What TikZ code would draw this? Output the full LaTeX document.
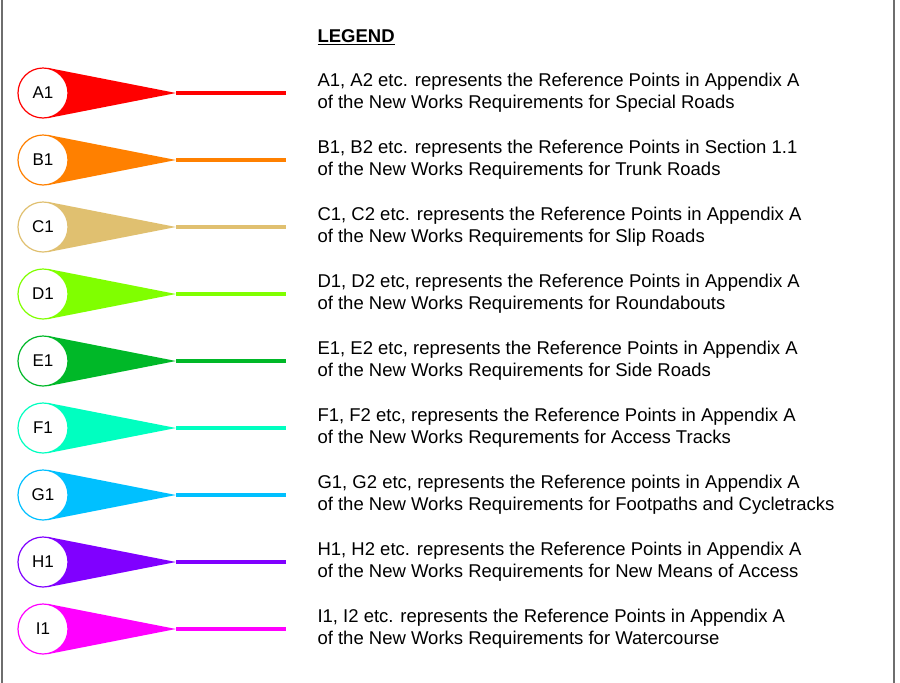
\documentclass[tikz,border=0pt]{standalone}
\usepackage{fontspec}
\setmainfont{Liberation Sans}
\usepackage{tikz}
\definecolor{refA}{RGB}{255, 0, 0}
\definecolor{refB}{RGB}{255, 128, 0}
\definecolor{refC}{RGB}{224, 192, 112}
\definecolor{refD}{RGB}{128, 255, 0}
\definecolor{refE}{RGB}{0, 184, 40}
\definecolor{refF}{RGB}{0, 255, 192}
\definecolor{refG}{RGB}{0, 192, 255}
\definecolor{refH}{RGB}{128, 0, 255}
\definecolor{refI}{RGB}{255, 0, 255}
\definecolor{framegray}{RGB}{110, 110, 110}
\usetikzlibrary{positioning, backgrounds}

\begin{document}
\begin{tikzpicture}[
    x=1pt, y=-1pt,
    refpt/.style={circle, draw=#1, line width=1.2pt, fill=white, minimum size=50pt,
                  inner sep=0pt, font=\fontsize{17}{18}\selectfont},
    refline/.style={draw=#1, line width=4.5pt},
    desc/.style={anchor=west, align=left, font=\fontsize{18.5}{22}\selectfont}
]
    \useasboundingbox (0,0) rectangle (900,683);
    \draw[framegray, line width=2pt] (2,0) -- (2,683);
    \draw[framegray, line width=1.6pt] (894,0) -- (894,683);

    \node[anchor=west, font=\fontsize{18.5}{20}\selectfont] (legend) at (314,37) {\underline{\textbf{LEGEND}}};

    % Reference point markers
    \node[refpt=refA] (a1) at (43,93) {A1};
    \node[refpt=refB] (b1) at (43,160) {B1};
    \node[refpt=refC] (c1) at (43,227) {C1};
    \node[refpt=refD] (d1) at (43,294) {D1};
    \node[refpt=refE] (e1) at (43,361) {E1};
    \node[refpt=refF] (f1) at (43,428) {F1};
    \node[refpt=refG] (g1) at (43,495) {G1};
    \node[refpt=refH] (h1) at (43,562) {H1};
    \node[refpt=refI] (i1) at (43,629) {I1};

    \coordinate (a1tip) at (176,93);  \coordinate (a1end) at (286,93);
    \coordinate (b1tip) at (176,160); \coordinate (b1end) at (286,160);
    \coordinate (c1tip) at (176,227); \coordinate (c1end) at (286,227);
    \coordinate (d1tip) at (176,294); \coordinate (d1end) at (286,294);
    \coordinate (e1tip) at (176,361); \coordinate (e1end) at (286,361);
    \coordinate (f1tip) at (176,428); \coordinate (f1end) at (286,428);
    \coordinate (g1tip) at (176,495); \coordinate (g1end) at (286,495);
    \coordinate (h1tip) at (176,562); \coordinate (h1end) at (286,562);
    \coordinate (i1tip) at (176,629); \coordinate (i1end) at (286,629);

    % Tails
    \begin{scope}[on background layer]
    \fill[refA] (a1.center) -- (a1.79) -- (a1tip) -- (a1.-79) -- cycle;
    \fill[refB] (b1.center) -- (b1.79) -- (b1tip) -- (b1.-79) -- cycle;
    \fill[refC] (c1.center) -- (c1.79) -- (c1tip) -- (c1.-79) -- cycle;
    \fill[refD] (d1.center) -- (d1.79) -- (d1tip) -- (d1.-79) -- cycle;
    \fill[refE] (e1.center) -- (e1.79) -- (e1tip) -- (e1.-79) -- cycle;
    \fill[refF] (f1.center) -- (f1.79) -- (f1tip) -- (f1.-79) -- cycle;
    \fill[refG] (g1.center) -- (g1.79) -- (g1tip) -- (g1.-79) -- cycle;
    \fill[refH] (h1.center) -- (h1.79) -- (h1tip) -- (h1.-79) -- cycle;
    \fill[refI] (i1.center) -- (i1.79) -- (i1tip) -- (i1.-79) -- cycle;
    \end{scope}
    \draw[refline=refA] (a1tip) -- (a1end);
    \draw[refline=refB] (b1tip) -- (b1end);
    \draw[refline=refC] (c1tip) -- (c1end);
    \draw[refline=refD] (d1tip) -- (d1end);
    \draw[refline=refE] (e1tip) -- (e1end);
    \draw[refline=refF] (f1tip) -- (f1end);
    \draw[refline=refG] (g1tip) -- (g1end);
    \draw[refline=refH] (h1tip) -- (h1end);
    \draw[refline=refI] (i1tip) -- (i1end);

    % Descriptions
    \node[desc] (a1txt) at (314,93) {A1, A2 etc. represents the Reference Points in Appendix A\\of the New Works Requirements for Special Roads};
    \node[desc] (b1txt) at (314,160) {B1, B2 etc. represents the Reference Points in Section 1.1\\of the New Works Requirements for Trunk Roads};
    \node[desc] (c1txt) at (314,227) {C1, C2 etc. represents the Reference Points in Appendix A\\of the New Works Requirements for Slip Roads};
    \node[desc] (d1txt) at (314,294) {D1, D2 etc, represents the Reference Points in Appendix A\\of the New Works Requirements for Roundabouts};
    \node[desc] (e1txt) at (314,361) {E1, E2 etc, represents the Reference Points in Appendix A\\of the New Works Requirements for Side Roads};
    \node[desc] (f1txt) at (314,428) {F1, F2 etc, represents the Reference Points in Appendix A\\of the New Works Requrements for Access Tracks};
    \node[desc] (g1txt) at (314,495) {G1, G2 etc, represents the Reference points in Appendix A\\of the New Works Requirements for Footpaths and Cycletracks};
    \node[desc] (h1txt) at (314,562) {H1, H2 etc. represents the Reference Points in Appendix A\\of the New Works Requirements for New Means of Access};
    \node[desc] (i1txt) at (314,629) {I1, I2 etc. represents the Reference Points in Appendix A\\of the New Works Requirements for Watercourse};
\end{tikzpicture}
\end{document}
